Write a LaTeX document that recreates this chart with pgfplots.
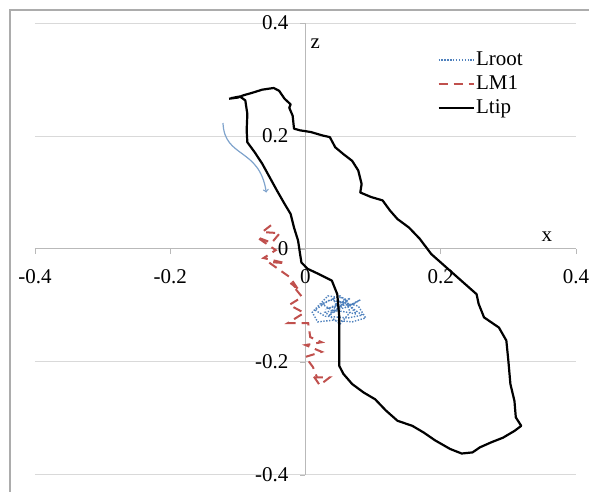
\documentclass[border=0pt]{standalone}
\usepackage{fontspec}
\setmainfont{Liberation Serif}
\usepackage{pgfplots}
\pgfplotsset{compat=1.18}
\definecolor{rootblue}{HTML}{4F81BD}
\definecolor{m1red}{HTML}{C0504D}
\definecolor{arrowblue}{HTML}{7FA3CC}
\begin{document}
\fontsize{21}{25}\selectfont
\begin{tikzpicture}
\useasboundingbox (-35pt,-17pt) rectangle (554pt,475pt);
\draw[gray!65, line width=1.6pt] (-25pt,-20pt) -- (-25pt,465pt) -- (560pt,465pt);
\begin{axis}[
  at={(0pt,0pt)}, anchor=south west,
  width=541pt, height=452pt, scale only axis,
  xmin=-0.4, xmax=0.4, ymin=-0.4, ymax=0.4,
  axis lines=middle,
  axis line style={draw=gray!55, line width=1pt, -},
  every inner x axis line/.append style={-},
  every inner y axis line/.append style={-},
  xtick={-0.4,-0.2,0,0.2,0.4}, ytick={-0.4,-0.2,0,0.2,0.4},
  hide obscured x ticks=false, hide obscured y ticks=false,
  ymajorgrids, grid style={gray!30, line width=1pt},
  tick style={gray!55, line width=0.8pt},
  major tick length=5pt, tick align=outside,
  /pgf/number format/assume math mode=true,
  xticklabel style={anchor=north, yshift=-8pt},
  yticklabel style={anchor=east, xshift=-5pt},
  xlabel={x}, ylabel={z},
  every axis x label/.style={at={(axis description cs:0.946,0.527)}, anchor=center},
  every axis y label/.style={at={(axis description cs:0.518,0.955)}, anchor=center},
  legend style={draw=none, fill=none, at={(axis description cs:0.738,0.945)}, anchor=north west,
    row sep=4pt, nodes={inner sep=1.5pt}},
  legend cell align=left,
  legend image code/.code={\draw[#1] (0pt,0pt) -- (35pt,0pt);},
]
\addplot[rootblue, line width=1.4pt, dash pattern=on 1.4pt off 1.5pt] coordinates {
(0.048,-0.090) (0.058,-0.099) (0.036,-0.104) (0.066,-0.087) (0.044,-0.112)
(0.024,-0.097) (0.051,-0.083) (0.073,-0.108) (0.084,-0.117) (0.063,-0.122)
(0.029,-0.119) (0.014,-0.108) (0.036,-0.090) (0.054,-0.094) (0.078,-0.101)
(0.089,-0.122) (0.069,-0.129) (0.041,-0.126) (0.018,-0.129) (0.010,-0.112)
(0.033,-0.083) (0.058,-0.087) (0.066,-0.112) (0.051,-0.133) (0.029,-0.112)
(0.058,-0.104) (0.081,-0.090) (0.070,-0.098) (0.046,-0.100) (0.040,-0.086)
(0.052,-0.110) (0.075,-0.115) (0.060,-0.092) (0.035,-0.118) (0.048,-0.095)
};
\addlegendentry{Lroot}
\addplot[m1red, line width=2pt, dash pattern=on 9pt off 6pt] coordinates {
(-0.051,0.042) (-0.064,0.030) (-0.038,0.028) (-0.050,0.011) (-0.072,0.021)
(-0.044,-0.002) (-0.062,-0.016) (-0.030,-0.025) (-0.055,-0.023) (-0.023,-0.050)
(-0.010,-0.073) (-0.022,-0.060) (-0.005,-0.085) (-0.024,-0.099) (-0.002,-0.113)
(-0.026,-0.131) (0.004,-0.131) (0.007,-0.156) (0.024,-0.165) (0.000,-0.170)
(0.024,-0.182) (0.000,-0.191) (0.011,-0.209) (0.017,-0.227) (0.036,-0.227)
(0.021,-0.241) (0.008,-0.218)
};
\addlegendentry{LM1}
\addplot[black, line width=2.2pt, line join=round] coordinates {
(-0.113,0.266) (-0.100,0.268) (-0.092,0.272) (-0.080,0.276) (-0.064,0.282)
(-0.047,0.285) (-0.039,0.280) (-0.031,0.266) (-0.022,0.256) (-0.024,0.250)
(-0.019,0.236) (-0.017,0.213) (-0.008,0.210) (0.008,0.207) (0.025,0.201)
(0.036,0.198) (0.044,0.180) (0.056,0.168) (0.069,0.156) (0.078,0.139)
(0.083,0.115) (0.081,0.100) (0.097,0.092) (0.114,0.086) (0.125,0.068)
(0.136,0.053) (0.153,0.038) (0.169,0.018) (0.186,-0.009) (0.203,-0.027)
(0.219,-0.044) (0.236,-0.062) (0.253,-0.080) (0.256,-0.097) (0.264,-0.121)
(0.286,-0.139) (0.297,-0.162) (0.300,-0.198) (0.303,-0.239) (0.309,-0.269)
(0.311,-0.298) (0.319,-0.313) (0.309,-0.322) (0.292,-0.334) (0.275,-0.342)
(0.258,-0.351) (0.247,-0.360) (0.231,-0.362) (0.214,-0.354) (0.192,-0.339)
(0.175,-0.325) (0.158,-0.313) (0.136,-0.304) (0.119,-0.286) (0.103,-0.266)
(0.086,-0.254) (0.069,-0.239) (0.056,-0.221) (0.050,-0.207) (0.050,-0.180)
(0.050,-0.121) (0.047,-0.080) (0.039,-0.056) (0.019,-0.044) (0.003,-0.035)
(-0.006,-0.024) (-0.008,-0.009) (-0.011,0.015) (-0.017,0.038) (-0.022,0.062)
(-0.031,0.080) (-0.042,0.103) (-0.053,0.127) (-0.064,0.151) (-0.075,0.171)
(-0.086,0.189) (-0.087,0.210) (-0.086,0.239) (-0.089,0.263) (-0.097,0.270)
(-0.110,0.267)
};
\addlegendentry{Ltip}
\draw[arrowblue, line width=1.2pt, ->] (axis cs:-0.122,0.223) .. controls (axis cs:-0.120,0.160) and (axis cs:-0.068,0.180) .. (axis cs:-0.058,0.100);
\end{axis}
\end{tikzpicture}
\end{document}
